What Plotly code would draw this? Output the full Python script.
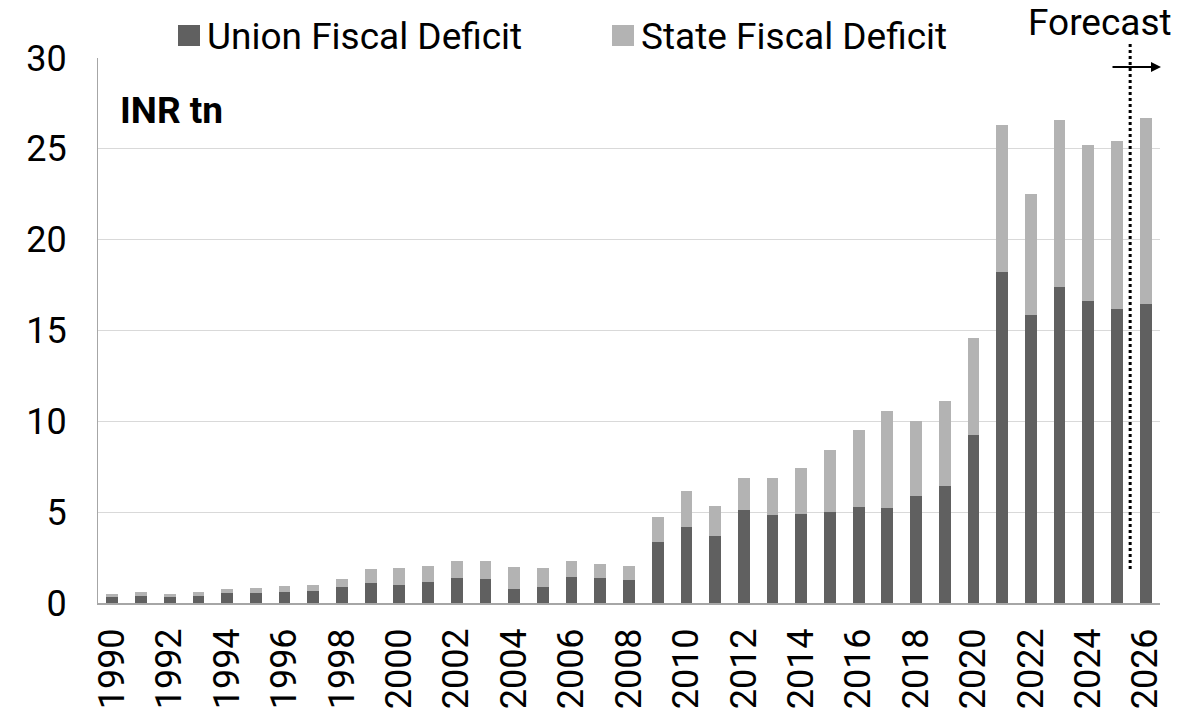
import plotly.graph_objects as go

years = list(range(1990, 2027))
union = [0.31, 0.41, 0.33, 0.39, 0.55, 0.53, 0.59, 0.66, 0.88, 1.08,
         1.01, 1.14, 1.36, 1.30, 0.75, 0.86, 1.41, 1.40, 1.25, 3.35,
         4.19, 3.71, 5.13, 4.87, 4.90, 5.02, 5.31, 5.22, 5.90, 6.46,
         9.27, 18.2, 15.87, 17.39, 16.62, 16.16, 16.45]
total = [0.48, 0.63, 0.52, 0.59, 0.79, 0.85, 0.92, 1.01, 1.32, 1.85,
         1.93, 2.06, 2.33, 2.29, 1.96, 1.95, 2.29, 2.13, 2.04, 4.74,
         6.14, 5.33, 6.87, 6.87, 7.44, 8.40, 9.51, 10.59, 10.0, 11.1,
         14.6, 26.31, 22.49, 26.6, 25.19, 25.41, 26.71]
state = [round(t - u, 2) for t, u in zip(total, union)]
tick_years = list(range(1990, 2027, 2))
y_ticks = [0, 5, 10, 15, 20, 25, 30]

UNION_C = "#606060"
STATE_C = "#b3b3b3"
FONT = "Roboto"
FS = 36
FS_ANN = 37

W, H = 1199, 711
L, R, T, B = 98, 39, 58, 108
PW, PH = W - L - R, H - T - B


def px_x(px):
    return (px - L) / PW


def px_y(py):
    return (H - B - py) / PH


fig = go.Figure()
fig.add_bar(x=years, y=union, name="Union Fiscal Deficit", marker_color=UNION_C,
            marker_line_width=0)
fig.add_bar(x=years, y=state, name="State Fiscal Deficit", marker_color=STATE_C,
            marker_line_width=0)

fig.update_layout(
    width=W, height=H,
    barmode="stack", bargap=0.59,
    showlegend=False,
    plot_bgcolor="white", paper_bgcolor="white",
    margin=dict(l=L, r=R, t=T, b=B, pad=0, autoexpand=False),
    font=dict(family=FONT, size=FS, color="#000000"),
    xaxis=dict(range=[1989.5, 2026.5], tickmode="array", tickvals=tick_years,
               ticktext=[str(y) for y in tick_years], tickangle=-90,
               showgrid=False, showline=True, linecolor="#a6a6a6", linewidth=2,
               ticks="", ticklabelstandoff=9, zeroline=False, automargin=False),
    yaxis=dict(range=[0, 30], tickmode="array", tickvals=y_ticks,
               showgrid=True, gridcolor="#d9d9d9", gridwidth=1,
               showline=True, linecolor="#a6a6a6", linewidth=1,
               ticks="", ticklabelstandoff=23, zeroline=False, automargin=False),
)

# legend (custom, to match large squares and spacing)
legend_items = [("Union Fiscal Deficit", UNION_C, 178), ("State Fiscal Deficit", STATE_C, 612)]
for label, col, x0 in legend_items:
    fig.add_shape(type="rect", xref="paper", yref="paper",
                  x0=px_x(x0), x1=px_x(x0 + 22), y0=px_y(46), y1=px_y(25),
                  fillcolor=col, line_width=0)
    fig.add_annotation(text=label, xref="paper", yref="paper", x=px_x(x0 + 27), y=px_y(36),
                       xanchor="left", yanchor="middle", showarrow=False,
                       font=dict(family=FONT, size=FS_ANN, color="#000000"))

fig.add_annotation(text="<b>INR tn</b>", xref="paper", yref="paper", x=px_x(118), y=px_y(110),
                   xanchor="left", yanchor="middle", showarrow=False,
                   font=dict(family=FONT, size=FS_ANN, color="#000000"))

fig.add_annotation(text="Forecast", xref="paper", yref="paper", x=px_x(1100), y=px_y(23),
                   xanchor="center", yanchor="middle", showarrow=False,
                   font=dict(family=FONT, size=FS_ANN, color="#000000"))

# forecast divider
fig.add_shape(type="line", xref="x", yref="paper", x0=2025.46, x1=2025.46,
              y0=px_y(569), y1=px_y(43), line=dict(color="black", width=3, dash="dot"))
fig.add_annotation(xref="paper", yref="paper", x=px_x(1161), y=px_y(67),
                   ax=-50, ay=0, axref="pixel", ayref="pixel", text="",
                   showarrow=True, arrowhead=2, arrowsize=1, arrowwidth=2, arrowcolor="black")

fig.write_html("out.html", config={"displayModeBar": False},
               post_script="document.body.style.margin='0';")
